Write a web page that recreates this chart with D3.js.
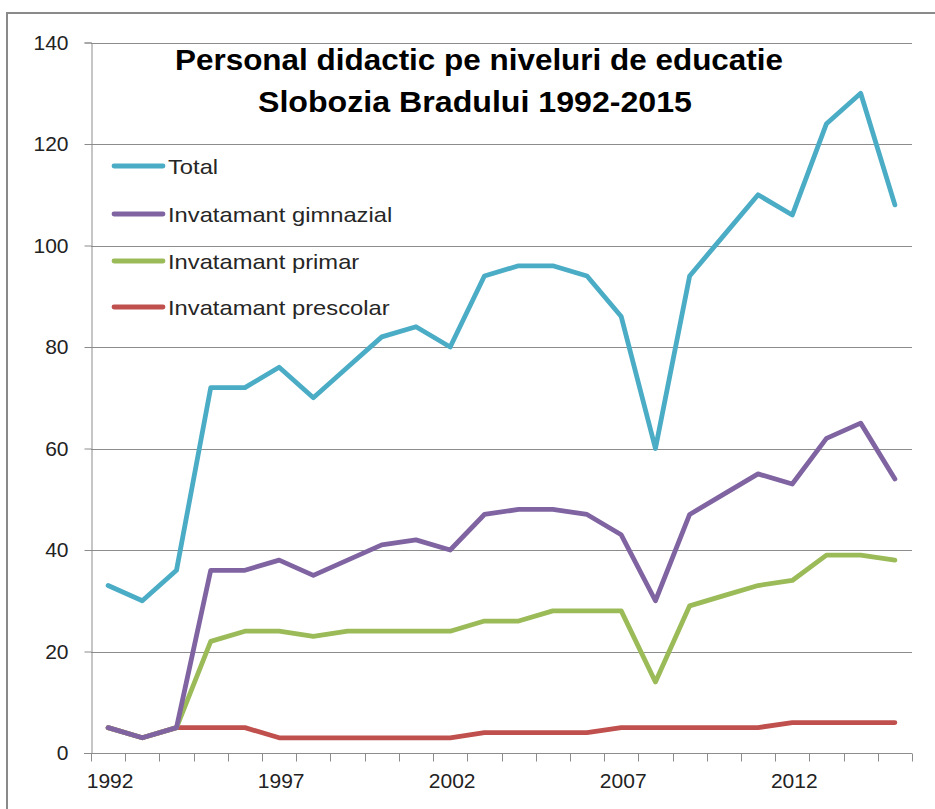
<!DOCTYPE html>
<html>
<head>
<meta charset="utf-8">
<script src="https://cdn.jsdelivr.net/npm/d3@7"></script>
<style>
  html, body { margin: 0; padding: 0; background: #fff; }
  svg { display: block; }
</style>
</head>
<body>
<script>
// data
const years = d3.range(1992, 2016)
const total = [33, 30, 36, 72, 72, 76, 70, 76, 82, 84, 80, 94, 96, 96, 94, 86, 60, 94, 102, 110, 106, 124, 130, 108]
const gimnazial = [5, 3, 5, 36, 36, 38, 35, 38, 41, 42, 40, 47, 48, 48, 47, 43, 30, 47, 51, 55, 53, 62, 65, 54]
const primar = [5, 3, 5, 22, 24, 24, 23, 24, 24, 24, 24, 26, 26, 28, 28, 28, 14, 29, 31, 33, 34, 39, 39, 38]
const prescolar = [5, 3, 5, 5, 5, 3, 3, 3, 3, 3, 3, 4, 4, 4, 4, 5, 5, 5, 5, 5, 6, 6, 6, 6]
const yTicks = [0, 20, 40, 60, 80, 100, 120, 140]
const xLabels = [1992, 1997, 2002, 2007, 2012]

const series = [
  { name: 'Total', values: total, color: '#4BACC6' },
  { name: 'Invatamant gimnazial', values: gimnazial, color: '#8064A2' },
  { name: 'Invatamant primar', values: primar, color: '#9BBB59' },
  { name: 'Invatamant prescolar', values: prescolar, color: '#C0504D' }
]

const W = 935, H = 809
const plotL = 91, plotR = 912, plotT = 42.5, plotB = 753
const font = "'Liberation Sans', Arial, sans-serif"

const svg = d3.select('body').append('svg')
  .attr('width', W)
  .attr('height', H)

// outer chart frame
svg.append('rect')
  .attr('x', 7).attr('y', 13)
  .attr('width', 940).attr('height', 820)
  .attr('fill', 'none')
  .attr('stroke', '#8a8a8a')
  .attr('stroke-width', 2)

const x = d3.scaleBand().domain(years).range([plotL, plotR])
const y = d3.scaleLinear().domain([0, 140]).range([plotB, plotT])

// gridlines
svg.append('g')
  .selectAll('line')
  .data(yTicks.filter(d => d > 0))
  .join('line')
  .attr('x1', plotL).attr('x2', plotR)
  .attr('y1', d => Math.round(y(d)) + 0.5)
  .attr('y2', d => Math.round(y(d)) + 0.5)
  .attr('stroke', '#8c8c8c')
  .attr('stroke-width', 1)

// y axis
const yAxis = svg.append('g')
  .attr('transform', `translate(${plotL + 0.5},0)`)
  .call(d3.axisLeft(y).tickValues(yTicks).tickSize(7).tickPadding(16))
yAxis.select('.domain').attr('stroke', '#8c8c8c')
yAxis.selectAll('.tick line').attr('stroke', '#8c8c8c')
yAxis.selectAll('.tick text')
  .attr('font-family', font)
  .attr('font-size', 21)
  .attr('fill', '#222')

// x axis: ticks on category boundaries
const xAxis = svg.append('g')
  .attr('transform', `translate(0,${plotB + 0.5})`)
xAxis.append('line')
  .attr('x1', plotL - 7).attr('x2', plotR)
  .attr('stroke', '#8c8c8c')
xAxis.selectAll('line.tk')
  .data(years.concat([2016]))
  .join('line')
  .attr('class', 'tk')
  .attr('x1', d => Math.round(d === 2016 ? plotR : x(d)) + 0.5)
  .attr('x2', d => Math.round(d === 2016 ? plotR : x(d)) + 0.5)
  .attr('y1', 0).attr('y2', 8)
  .attr('stroke', '#8c8c8c')
xAxis.selectAll('text')
  .data(xLabels)
  .join('text')
  .attr('x', d => x(d) + x.bandwidth() / 2 + 2)
  .attr('y', 34)
  .attr('text-anchor', 'middle')
  .attr('font-family', font)
  .attr('font-size', 21)
  .attr('fill', '#222')
  .text(d => d)

// lines
const line = d3.line()
  .x((d, i) => x(years[i]) + x.bandwidth() / 2)
  .y(d => y(d))

svg.append('g')
  .selectAll('path')
  .data(series.slice().reverse())
  .join('path')
  .attr('d', d => line(d.values))
  .attr('fill', 'none')
  .attr('stroke', d => d.color)
  .attr('stroke-width', 4.8)
  .attr('stroke-linejoin', 'round')
  .attr('stroke-linecap', 'round')

// legend
const legendY = [166, 214, 261, 307]
const legend = svg.append('g')
  .selectAll('g')
  .data(series)
  .join('g')
  .attr('transform', (d, i) => `translate(113,${legendY[i]})`)
legend.append('line')
  .attr('x1', 1).attr('x2', 50)
  .attr('stroke', d => d.color)
  .attr('stroke-width', 4.8)
  .attr('stroke-linecap', 'round')
legend.append('text')
  .attr('x', 55)
  .attr('y', 8)
  .attr('font-family', font)
  .attr('font-size', 21)
  .attr('fill', '#262626')
  .text(d => d.name)
  .each(function () {
    const len = this.getComputedTextLength()
    d3.select(this)
      .attr('textLength', len * 1.13)
      .attr('lengthAdjust', 'spacingAndGlyphs')
  })

// title
const title = svg.append('g')
  .attr('font-family', font)
  .attr('font-weight', 'bold')
  .attr('font-size', 30)
  .attr('fill', '#000')
title.append('text')
  .attr('x', 175).attr('y', 70)
  .attr('textLength', 608)
  .attr('lengthAdjust', 'spacingAndGlyphs')
  .text('Personal didactic pe niveluri de educatie')
title.append('text')
  .attr('x', 258).attr('y', 112)
  .attr('textLength', 434)
  .attr('lengthAdjust', 'spacingAndGlyphs')
  .text('Slobozia Bradului 1992-2015')
</script>
</body>
</html>
